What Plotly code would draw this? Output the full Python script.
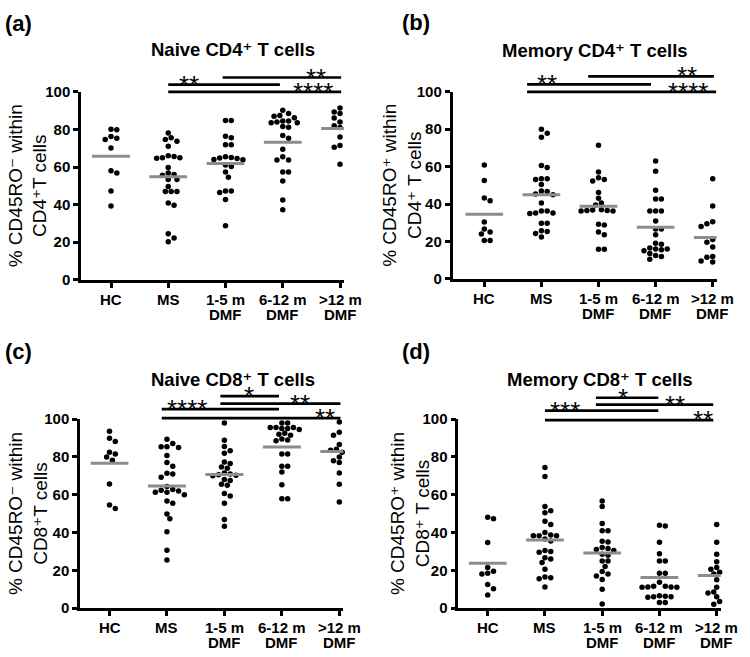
import numpy as np
import plotly.graph_objects as go

FONT = "Liberation Sans, Arial, DejaVu Sans, sans-serif"
W, H = 750, 657

CATEGORIES = ["HC", "MS", "1-5 m", "6-12 m", ">12 m"]
CATEGORY_LINE2 = ["", "", "DMF", "DMF", "DMF"]
Y_TICKS = [0, 20, 40, 60, 80, 100]

# ---- (a) Naive CD4+ : % CD45RO- within CD4+ T cells
A_HC = [80.1, 79.8, 76.2, 75.3, 74.6, 70.1, 58.0, 56.8, 47.3, 39.2]
A_MS = [78.1, 74.6, 73.7, 75.5, 71.0, 66.0, 64.9, 64.6, 64.9, 65.6, 59.8, 55.6, 56.8,
        56.0, 53.4, 53.4, 49.6, 47.0, 47.0, 47.0, 39.6, 40.8, 24.5, 22.3, 20.2]
A_DMF_1_5 = [84.8, 84.8, 75.5, 76.3, 71.8, 71.8, 64.5, 65.0, 63.8, 65.5, 64.0, 64.8, 61.1,
             60.3, 57.3, 54.6, 47.3, 46.5, 47.3, 42.7, 28.7]
A_DMF_6_12 = [90.2, 87.0, 87.4, 88.4, 86.2, 83.6, 83.6, 84.5, 83.9, 84.5, 81.5, 81.2, 76.7,
              75.3, 69.4, 65.5, 63.7, 63.7, 57.3, 57.3, 52.5, 42.5, 37.3]
A_DMF_12 = [91.4, 91.4, 89.3, 88.4, 88.0, 86.0, 84.0, 84.0, 82.0, 81.0, 80.5, 81.0, 76.0,
            71.5, 70.5, 70.5, 70.5, 61.5]

# ---- (b) Memory CD4+ : % CD45RO+ within CD4+ T cells
B_HC = [60.9, 52.6, 43.2, 41.8, 30.4, 26.6, 25.0, 24.0, 20.5, 20.5]
B_MS = [80.0, 77.8, 75.7, 60.6, 59.5, 53.5, 53.5, 53.1, 50.5, 47.0, 45.0, 45.3, 46.7, 40.6,
        36.3, 35.2, 34.9, 35.2, 36.3, 29.7, 29.7, 25.7, 25.3, 24.2, 22.4]
B_DMF_1_5 = [71.4, 57.1, 54.0, 53.1, 52.3, 46.2, 43.1, 40.5, 39.5, 36.8, 36.5, 36.3, 36.5,
             37.0, 36.3, 28.8, 29.2, 25.0, 23.6, 15.8, 15.8]
B_DMF_6_12 = [63.0, 57.5, 47.4, 42.7, 42.7, 36.3, 36.3, 36.3, 30.9, 26.6, 26.6, 23.6, 19.0,
              18.5, 16.5, 16.0, 16.0, 15.5, 15.0, 13.5, 12.5, 12.0, 10.5]
B_DMF_12 = [53.5, 39.0, 30.5, 30.0, 29.5, 28.5, 28.0, 21.0, 20.5, 19.5, 17.0, 16.0, 12.0,
            11.5, 11.5, 10.5, 9.5, 9.0]

# ---- (c) Naive CD8+ : % CD45RO- within CD8+ T cells
C_HC = [93.6, 89.9, 88.1, 82.5, 81.6, 79.9, 78.2, 65.6, 54.5, 52.7]
C_MS = [89.3, 85.4, 85.0, 85.4, 87.1, 80.8, 77.0, 75.1, 71.0, 69.2, 71.3, 62.4, 61.3, 61.9,
        61.3, 62.7, 64.4, 60.0, 56.7, 55.5, 49.8, 47.3, 40.4, 30.6, 25.4]
C_DMF_1_5 = [97.9, 88.8, 85.5, 83.3, 82.0, 77.3, 76.5, 74.7, 74.0, 70.3, 70.5, 71.0, 70.0,
             71.5, 68.0, 67.5, 65.5, 65.0, 60.7, 59.3, 55.5, 46.9, 43.3]
C_DMF_6_12 = [97.9, 97.9, 95.5, 95.5, 94.5, 95.0, 95.0, 95.5, 92.5, 91.5, 92.0, 89.5, 89.0,
              88.5, 81.6, 81.6, 75.1, 75.1, 72.0, 65.3, 57.9, 57.9]
C_DMF_12 = [98.5, 97.0, 93.0, 92.0, 91.5, 91.0, 86.5, 85.0, 83.5, 82.5, 82.0, 78.5, 78.0,
            77.0, 71.5, 65.5, 56.2, 80.0, 84.0]

# ---- (d) Memory CD8+ : % CD45RO+ within CD8+ T cells
D_HC = [48.1, 47.3, 34.7, 21.5, 19.5, 18.5, 18.0, 12.5, 10.3, 6.9]
D_MS = [74.4, 69.6, 53.8, 51.5, 50.5, 46.0, 44.2, 40.0, 38.7, 38.3, 38.3, 38.3, 36.5, 35.5,
        30.5, 30.0, 29.5, 26.6, 26.0, 24.1, 20.6, 16.5, 16.0, 15.5, 11.2]
D_DMF_1_5 = [56.7, 53.8, 44.7, 40.9, 40.9, 35.4, 35.0, 32.0, 31.0, 31.5, 30.5, 28.5, 28.0,
             24.9, 24.9, 22.0, 19.4, 18.0, 17.0, 15.1, 10.0, 2.2]
D_DMF_6_12 = [43.8, 43.5, 34.9, 28.7, 24.9, 24.9, 18.4, 18.4, 13.7, 11.5, 11.2, 11.0, 11.5,
              11.0, 11.2, 6.5, 6.0, 6.2, 5.8, 6.0, 2.9, 2.9]
D_DMF_12 = [44.2, 34.9, 28.5, 24.5, 23.0, 21.5, 20.5, 19.0, 18.0, 17.0, 15.0, 13.7, 11.0,
            9.5, 8.5, 8.0, 6.0, 3.5, 2.0]

PANEL_LETTERS = ["(a)", "(b)", "(c)", "(d)"]
PANEL_TITLES = ["Naive CD4\u207a T cells", "Memory CD4\u207a T cells",
                "Naive CD8\u207a T cells", "Memory CD8\u207a T cells"]
Y_TITLES = ["% CD45RO\u207b within<br>CD4\u207aT cells",
            "% CD45RO\u207a within<br>CD4\u207a T cells",
            "% CD45RO\u207b within<br>CD8\u207aT cells",
            "% CD45RO\u207a within<br>CD8\u207a T cells"]
SIG_STARS_A = ["**", "**", "****"]
SIG_STARS_B = ["**", "**", "****"]
SIG_STARS_C = ["*", "**", "****", "**"]
SIG_STARS_D = ["*", "**", "***", "**"]

GROUPS = [
    [A_HC, A_MS, A_DMF_1_5, A_DMF_6_12, A_DMF_12],
    [B_HC, B_MS, B_DMF_1_5, B_DMF_6_12, B_DMF_12],
    [C_HC, C_MS, C_DMF_1_5, C_DMF_6_12, C_DMF_12],
    [D_HC, D_MS, D_DMF_1_5, D_DMF_6_12, D_DMF_12],
]
STARS = [SIG_STARS_A, SIG_STARS_B, SIG_STARS_C, SIG_STARS_D]

# ---- layout geometry (pixels in the 750x657 canvas)
GEOM = [
    dict(ax=81.0, hc=111.0, step=57.25, y0=278.0, y100=85.0,
         title=(233, 42), letter=(3, 15), ytl=27.5,
         brackets=[(1.95, 4.02, 107.6, 3.575), (1.0, 2.95, 103.8, 1.37), (1.0, 4.02, 100.0, 3.53)]),
    dict(ax=452.5, hc=484.3, step=57.1, y0=277.0, y100=85.0,
         title=(595, 43), letter=(400, 14), ytl=402.5,
         brackets=[(1.82, 4.02, 108.3, 3.545), (0.75, 2.92, 104.0, 1.09), (0.75, 4.06, 100.0, 3.57)]),
    dict(ax=80.0, hc=109.5, step=57.45, y0=615.0, y100=421.0,
         title=(233, 380), letter=(3, 352), ytl=27.5,
         brackets=[(1.93, 2.95, 112.2, 2.43), (1.93, 4.02, 108.2, 3.32),
                   (0.91, 2.95, 105.3, 1.35), (0.91, 4.02, 100.5, 3.75)]),
    dict(ax=458.3, hc=487.7, step=57.25, y0=615.0, y100=421.0,
         title=(600, 380), letter=(400, 352), ytl=409.5,
         brackets=[(1.89, 2.98, 111.3, 2.36), (1.89, 3.94, 107.7, 3.27),
                   (1.0, 2.98, 104.5, 1.35), (1.0, 3.94, 99.5, 3.76)]),
]


def swarm(vals, px_per_unit, step_px, d=5.8):
    vals = np.asarray(vals, dtype=float)
    order = np.argsort(-vals)
    placed = []
    offs = np.zeros(len(vals))
    cands = [0.0]
    for k in range(1, 60):
        cands += [k * d / 2, -k * d / 2]
    for i in order:
        y = vals[i] * px_per_unit
        chosen = cands[-1]
        for c in cands:
            if all((c - px) ** 2 + (y - py) ** 2 >= (d * 0.97) ** 2 for px, py in placed):
                chosen = c
                break
        placed.append((chosen, y))
        offs[i] = chosen / step_px
    return offs


fig = go.Figure()
annotations = []
shapes = []
layout_axes = {}
TICKFONT = dict(family=FONT, size=15, color="black", weight="bold")

for p, (groups, g) in enumerate(zip(GROUPS, GEOM)):
    sfx = "" if p == 0 else str(p + 1)
    xa, ya = "x" + sfx, "y" + sfx
    xend = g["hc"] + 4 * g["step"] + 4
    r0 = (g["ax"] - g["hc"]) / g["step"]
    r1 = (xend - g["hc"]) / g["step"]
    ppu = (g["y0"] - g["y100"]) / 100.0

    for gi, vals in enumerate(groups):
        offs = swarm(vals, ppu, g["step"])
        fig.add_trace(go.Scatter(
            x=gi + offs, y=vals, mode="markers", xaxis=xa, yaxis=ya,
            marker=dict(size=5.5, color="black", line=dict(width=0)),
            cliponaxis=False, showlegend=False, hoverinfo="skip"))
        m = float(np.mean(vals))
        fig.add_trace(go.Scatter(
            x=[gi - 0.33, gi + 0.33], y=[m, m], mode="lines", xaxis=xa, yaxis=ya,
            line=dict(color="#8c8c8c", width=3), cliponaxis=False,
            showlegend=False, hoverinfo="skip"))
        annotations.append(dict(
            x=gi, y=0, xref=xa, yref=ya + " domain", yshift=-19, yanchor="middle",
            height=14, borderpad=0, borderwidth=0,
            text=CATEGORIES[gi], showarrow=False, font=TICKFONT))
        if CATEGORY_LINE2[gi]:
            annotations.append(dict(
                x=gi, y=0, xref=xa, yref=ya + " domain", yshift=-34, yanchor="middle",
                height=14, borderpad=0, borderwidth=0,
                text=CATEGORY_LINE2[gi], showarrow=False, font=TICKFONT))

    for (b0, b1, lvl, sx), st in zip(g["brackets"], STARS[p]):
        fx0 = (b0 - r0) / (r1 - r0)
        fx1 = (b1 - r0) / (r1 - r0)
        shapes.append(dict(type="line", xref=xa + " domain", yref=ya + " domain",
                           x0=fx0, x1=fx1, y0=lvl / 100, y1=lvl / 100,
                           line=dict(color="black", width=2.7)))
        annotations.append(dict(
            x=sx, y=lvl / 100, xref=xa, yref=ya + " domain", yanchor="bottom",
            yshift=-15, borderpad=0, borderwidth=0, text=st, showarrow=False,
            font=dict(family=FONT, size=26, color="black")))

    layout_axes["xaxis" + sfx] = dict(
        domain=[g["ax"] / W, xend / W], range=[r0, r1], anchor=ya,
        tickmode="array", tickvals=list(range(5)), showticklabels=False,
        showline=True, linewidth=2.5, linecolor="black", ticks="outside",
        ticklen=5, tickwidth=2.5, tickcolor="black", showgrid=False, zeroline=False)
    layout_axes["yaxis" + sfx] = dict(
        domain=[1 - g["y0"] / H, 1 - g["y100"] / H], range=[0, 100], anchor=xa,
        tickmode="array", tickvals=Y_TICKS,
        showline=True, linewidth=2.5, linecolor="black", ticks="outside",
        ticklen=5, tickwidth=2.5, tickcolor="black", showgrid=False, zeroline=False,
        tickfont=TICKFONT)

    tx, ty = g["title"]
    annotations.append(dict(x=tx / W, y=1 - ty / H, xref="paper", yref="paper",
                            text=PANEL_TITLES[p], showarrow=False, xanchor="center",
                            yanchor="middle", borderpad=0, borderwidth=0,
                            font=dict(family=FONT, size=18.5, color="black", weight="bold")))
    lx, ly = g["letter"]
    annotations.append(dict(x=lx / W, y=1 - ly / H, xref="paper", yref="paper",
                            text=PANEL_LETTERS[p], showarrow=False, xanchor="left",
                            yanchor="middle",
                            font=dict(family=FONT, size=22, color="black", weight="bold")))
    yc = (g["y0"] + g["y100"]) / 2
    annotations.append(dict(x=g["ytl"] / W, y=1 - yc / H, xref="paper", yref="paper",
                            text=Y_TITLES[p], showarrow=False, textangle=-90,
                            xanchor="center", yanchor="middle", align="center",
                            font=dict(family=FONT, size=19, color="black")))

fig.update_layout(
    width=W, height=H, margin=dict(l=0, r=0, t=0, b=0),
    paper_bgcolor="white", plot_bgcolor="white",
    annotations=annotations, shapes=shapes, showlegend=False,
    **layout_axes)

# the page's default 8px body margin would shift the whole figure; remove it
fig.write_html("out.html", config={"displayModeBar": False},
               post_script="document.body.style.margin='0px';document.body.style.overflow='hidden';")
